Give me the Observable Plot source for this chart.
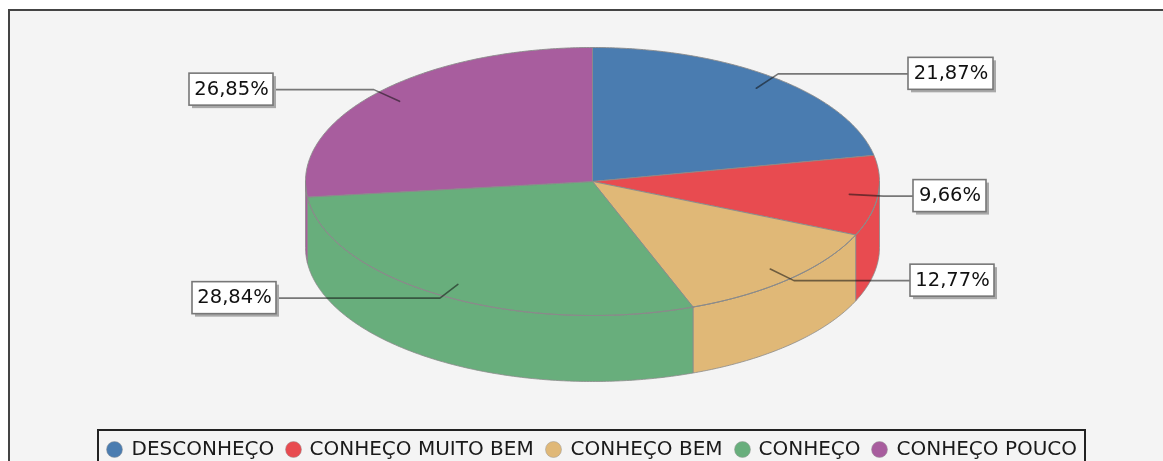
<!DOCTYPE html>
<html>
<head>
<meta charset="utf-8">
<script src="https://cdn.jsdelivr.net/npm/d3@7"></script>
<script src="https://cdn.jsdelivr.net/npm/@observablehq/plot@0.6"></script>
<style>
html,body{margin:0;padding:0;background:#fff;overflow:hidden}
svg{display:block;filter:blur(0.7px)}
</style>
</head>
<body>
<div id="chart"></div>
<script>
const categories = ["DESCONHEÇO", "CONHEÇO MUITO BEM", "CONHEÇO BEM", "CONHEÇO", "CONHEÇO POUCO"];
const values = [21.87, 9.66, 12.77, 28.84, 26.85];
const colors = ["#4a7cb0", "#e84b50", "#e0b877", "#68ae7c", "#a85d9e"];

// Layout (pixels)
const W = 1163, H = 461;
const cx = 592, cy = 181, rx = 287, ry = 134, depth = 66;
const boxLeft = [908, 913, 910, 192, 189];
const boxWidth = [85, 73, 84, 84, 84];
const boxNudge = [-2, 0, 0, 0, -1];
const boxHeight = 32;
const legendDotX = [114, 293, 553, 742, 879];
const legendTextX = [131, 309, 570, 758, 896];
const legendY = 449;

const total = d3.sum(values);
const pt = (t, f = 1, dy = 0) => ({x: cx + f * rx * Math.sin(t), y: cy - f * ry * Math.cos(t) + dy});
const arc = (a, b, dy = 0) => {
  const n = Math.max(2, Math.ceil(Math.abs(b - a) / 0.01));
  return d3.range(n + 1).map(i => pt(a + (b - a) * i / n, 1, dy));
};

let acc = 0;
const slices = values.map((v, i) => {
  const a0 = acc / total * 2 * Math.PI;
  acc += v;
  const a1 = acc / total * 2 * Math.PI;
  return {i, v, a0, a1, mid: (a0 + a1) / 2, color: colors[i]};
});

const topRows = [], wallRows = [], rimRows = [];
for (const s of slices) {
  const poly = [{x: cx, y: cy}, ...arc(s.a0, s.a1), {x: cx, y: cy}];
  poly.forEach(p => topRows.push({...p, id: "t" + s.i, color: s.color}));
  const lo = Math.max(s.a0, Math.PI / 2), hi = Math.min(s.a1, 3 * Math.PI / 2);
  if (lo < hi) {
    const top = arc(lo, hi), bot = arc(hi, lo, depth);
    [...top, ...bot, top[0]].forEach(p => wallRows.push({...p, id: "w" + s.i, color: s.color}));
    top.forEach(p => rimRows.push({...p, id: "r" + s.i}));
  }
}

const leaderRows = [];
const boxes = [];
slices.forEach(s => {
  const start = pt(s.mid, 0.9), e = pt(s.mid, 1.02);
  const elbow = {x: e.x, y: e.y + boxNudge[s.i]};
  const left = boxLeft[s.i], w = boxWidth[s.i];
  const isRight = left > cx;
  const end = {x: isRight ? left : left + w, y: elbow.y};
  [start, elbow, end].forEach(p => leaderRows.push({...p, id: s.i}));
  boxes.push({
    x1: left, x2: left + w, y1: elbow.y - boxHeight / 2, y2: elbow.y + boxHeight / 2,
    tx: left + w / 2, ty: elbow.y - 1,
    label: values[s.i].toFixed(2).replace(".", ",") + "%"
  });
});

const legendRows = categories.map((c, i) => ({c, dx: legendDotX[i], tx: legendTextX[i], color: colors[i]}));

const chart = Plot.plot({
  width: W, height: H,
  margin: 0,
  x: {domain: [0, W], range: [0, W], axis: null},
  y: {domain: [0, H], range: [0, H], axis: null},
  style: {fontFamily: "'DejaVu Sans', sans-serif", background: "#fff"},
  marks: [
    Plot.rect([{}], {x1: () => 9, x2: () => W + 10, y1: () => 10, y2: () => H + 10, fill: "#f4f4f4", stroke: "#444", strokeWidth: 2}),
    Plot.line(wallRows, {x: "x", y: "y", z: "id", fill: "color", stroke: "#8a8a8a", strokeWidth: 0.8}),
    Plot.line(topRows, {x: "x", y: "y", z: "id", fill: "color", stroke: "#8a8a8a", strokeWidth: 0.9}),
    Plot.line(rimRows, {x: "x", y: "y", z: "id", stroke: "#8a8a8a", strokeWidth: 1}),
    Plot.line(leaderRows, {x: "x", y: "y", z: "id", stroke: "#111", strokeOpacity: 0.55, strokeWidth: 1.6}),
    Plot.rect(boxes, {x1: d => d.x1 + 3, x2: d => d.x2 + 3, y1: d => d.y1 + 3, y2: d => d.y2 + 3, fill: "#a8a8a8"}),
    Plot.rect(boxes, {x1: "x1", x2: "x2", y1: "y1", y2: "y2", fill: "#fff", stroke: "#777", strokeWidth: 1.6}),
    Plot.text(boxes, {x: "tx", y: "ty", text: "label", fontSize: 19.5, fill: "#111", textAnchor: "middle"}),
    Plot.rect([{}], {x1: () => 98, x2: () => 1085, y1: () => 430, y2: () => H + 10, fill: "#f4f4f4", stroke: "#222", strokeWidth: 2}),
    Plot.dot(legendRows, {x: "dx", y: () => legendY, r: 8, fill: "color", stroke: "#999", strokeWidth: 0.5}),
    Plot.text(legendRows, {x: "tx", y: () => legendY - 1, text: "c", fontSize: 20, fill: "#1a1a1a", textAnchor: "start"})
  ]
});
document.getElementById("chart").appendChild(chart);
</script>
</body>
</html>
